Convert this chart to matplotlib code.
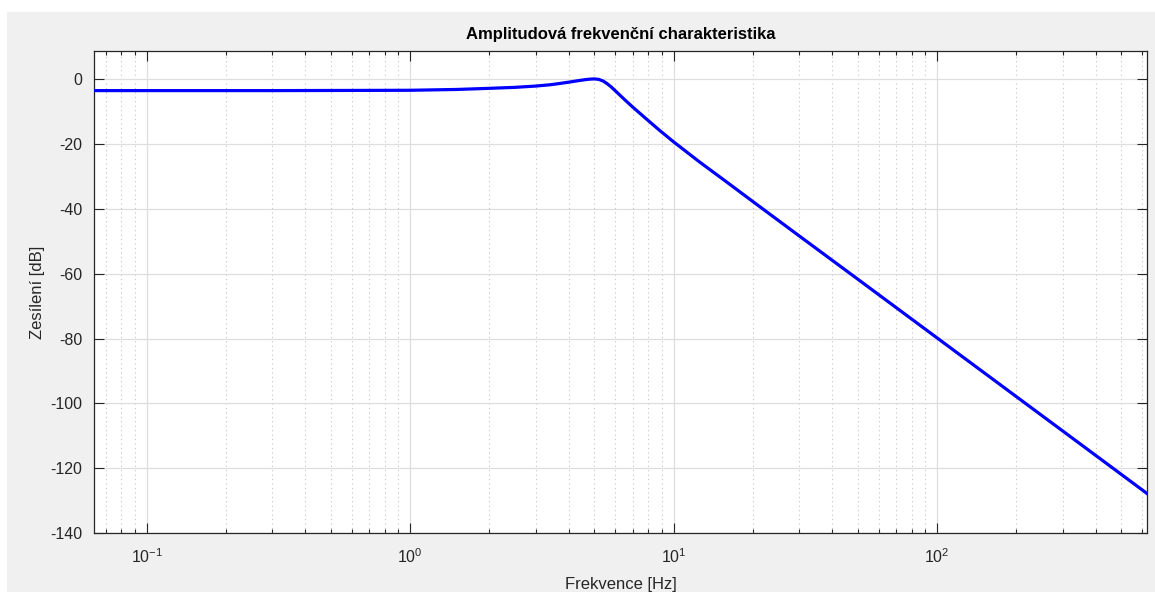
"""Amplitudová frekvenční charakteristika (Bode magnitude) redrawn in matplotlib."""

import matplotlib
matplotlib.use("Agg")
import matplotlib.pyplot as plt
from matplotlib.patches import Rectangle
from matplotlib.ticker import LogLocator, NullFormatter

plt.rcParams["font.family"] = ["Liberation Sans", "DejaVu Sans"]
plt.rcParams["mathtext.fontset"] = "custom"
plt.rcParams["mathtext.rm"] = "Liberation Sans"
plt.rcParams["mathtext.it"] = "Liberation Sans"
plt.rcParams["mathtext.bf"] = "Liberation Sans:bold"
plt.rcParams["axes.unicode_minus"] = False

# values
freq_hz = [0.0628, 0.1, 0.3, 0.6, 1.0, 1.5, 2.0, 2.5, 3.0, 3.4, 3.7, 4.0, 4.3,
           4.6, 4.8, 5.0, 5.2, 5.4, 5.6, 5.8, 6.05, 6.5, 7.0, 7.87, 8.83, 10.0,
           12.5, 15.8, 20.0, 30.0, 50.0, 100.0, 200.0, 400.0, 628.0]
gain_db = [-3.6, -3.6, -3.6, -3.55, -3.5, -3.25, -2.9, -2.6, -2.2, -1.8, -1.4,
           -1.0, -0.6, -0.25, -0.08, 0.0, -0.15, -0.65, -1.5, -2.5, -3.9, -6.3,
           -8.7, -12.3, -15.8, -19.4, -25.5, -31.6, -37.8, -48.4, -61.7,
           -79.8, -97.9, -116.0, -127.8]

y_ticks = [-140, -120, -100, -80, -60, -40, -20, 0]

TXT = "#262626"

fig = plt.figure(figsize=(11.55, 5.92), dpi=100, facecolor="white")
# MATLAB-like grey figure area (the screenshot has a thin white strip left/top)
fig.patches.append(Rectangle((7 / 1155, 0), 1 - 7 / 1155, (592 - 12) / 592,
                             transform=fig.transFigure, facecolor="#f0f0f0",
                             edgecolor="none", zorder=-10))

ax = fig.add_axes([93.5 / 1155, (592 - 533.3) / 592,
                   (1147.3 - 93.5) / 1155, (533.3 - 51) / 592])
ax.set_facecolor("white")

ax.semilogx(freq_hz, gain_db, color="#0000ff", linewidth=2.3, zorder=3,
            solid_joinstyle="round")

ax.set_xlim(0.0628, 628)
ax.set_ylim(-140, 8.6)
ax.set_yticks(y_ticks)
ax.xaxis.set_major_locator(LogLocator(base=10, numticks=10))
ax.xaxis.set_minor_locator(LogLocator(base=10, subs=range(2, 10), numticks=20))
ax.xaxis.set_minor_formatter(NullFormatter())

ax.grid(True, which="major", color="#dedede", linewidth=0.9, linestyle="-")
ax.grid(True, which="minor", axis="x", color="#c4c4c4", linewidth=0.8,
        linestyle=(0, (1, 3)))
ax.set_axisbelow(True)

ax.tick_params(which="both", direction="in", top=True, right=True,
               colors=TXT, labelsize=11.5, labelcolor=TXT)
ax.tick_params(which="major", length=7, width=0.8)
ax.tick_params(which="minor", length=3, width=0.8)
ax.tick_params(axis="x", which="major", pad=10)
ax.tick_params(axis="y", which="major", pad=8)
for s in ax.spines.values():
    s.set_color(TXT)
    s.set_linewidth(0.9)

ax.set_title("Amplitudová frekvenční charakteristika", fontsize=12,
             fontweight="bold", color="black", pad=9)
ax.set_xlabel("Frekvence [Hz]", fontsize=12, color=TXT, labelpad=8)
ax.set_ylabel("Zesílení [dB]", fontsize=12, color=TXT, labelpad=4)

fig.savefig("out.png", dpi=100, facecolor=fig.get_facecolor())
